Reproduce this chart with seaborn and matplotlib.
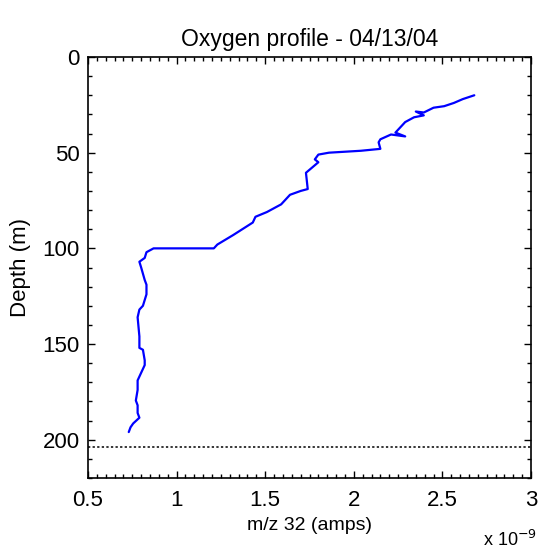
import matplotlib
matplotlib.use("Agg")
import matplotlib.pyplot as plt
from matplotlib.ticker import MultipleLocator
import seaborn as sns
import pandas as pd

# oxygen signal (x 1e-9 amps) vs depth (m)
signal = [2.68, 2.615, 2.565, 2.51, 2.45, 2.395, 2.35, 2.395, 2.34, 2.29,
          2.25, 2.235, 2.29, 2.21, 2.15, 2.14, 2.15, 2.04, 1.86, 1.80,
          1.78, 1.80, 1.73, 1.74, 1.70, 1.64, 1.59, 1.51, 1.445, 1.43,
          1.32, 1.23, 1.21, 0.87, 0.83, 0.82, 0.79, 0.80, 0.82, 0.83,
          0.83, 0.81, 0.79, 0.78, 0.79, 0.79, 0.81, 0.82, 0.82, 0.80,
          0.78, 0.78, 0.77, 0.78, 0.78, 0.79, 0.755, 0.74, 0.73]
depth = [20, 22, 24, 25.7, 26.5, 29, 28.5, 30.5, 31.5, 34,
         38, 39.5, 41.5, 40.5, 43, 44.6, 48, 49, 50, 51,
         53.5, 55, 60.5, 69, 70, 72, 77, 81, 83.5, 86.5,
         93, 98, 100, 100, 102, 105, 107, 110, 116.5, 119,
         124, 130, 132, 136, 146, 152, 153, 158.5, 161, 165,
         169, 174, 179.5, 182, 186, 188.5, 191.5, 193.5, 196]
bottom_depth = 204
xticks = [0.5, 1, 1.5, 2, 2.5, 3]
xtick_labels = ["0.5", "1", "1.5", "2", "2.5", "3"]

sns.set_style("white")
plt.rcParams["font.family"] = ["Liberation Sans", "DejaVu Sans"]
plt.rcParams["text.color"] = "black"
plt.rcParams["axes.labelcolor"] = "black"
plt.rcParams["xtick.color"] = "black"
plt.rcParams["ytick.color"] = "black"

df = pd.DataFrame({"signal": signal, "depth": depth})

fig = plt.figure(figsize=(5.38, 5.52), dpi=100)
ax = fig.add_axes([88 / 538, 1 - 478 / 552, 443 / 538, 421 / 552])

# plot in sampling order (profile goes down the water column)
sns.lineplot(data=df, x="signal", y="depth", sort=False, estimator=None,
             color="#0000ff", linewidth=1.6, ax=ax)
ax.axhline(bottom_depth, color="black", linestyle=(0, (1.5, 1.5)), linewidth=1.1)

ax.set_xlim(0.5, 3)
ax.set_ylim(220, 0)
ax.set_xticks(xticks)
ax.set_xticklabels(xtick_labels)
ax.xaxis.set_minor_locator(MultipleLocator(0.05))
ax.yaxis.set_major_locator(MultipleLocator(50))
ax.yaxis.set_minor_locator(MultipleLocator(10))
ax.tick_params(which="both", direction="in", top=True, right=True,
               bottom=True, left=True, labelsize=16, color="black")
ax.tick_params(which="major", length=5, width=1)
ax.tick_params(which="minor", length=3, width=1)
ax.tick_params(axis="x", pad=9)
ax.tick_params(axis="y", pad=6)
for s in ax.spines.values():
    s.set_color("black")
    s.set_linewidth(1.2)

ax.set_title("Oxygen profile - 04/13/04", fontsize=16.5, pad=8)
ax.set_xlabel("m/z 32 (amps)", fontsize=14, labelpad=4)
ax.set_ylabel("Depth (m)", fontsize=16, labelpad=8)
fig.text(483 / 538, 1 - 550 / 552, r"x 10$^{-9}$", fontsize=13, va="bottom")

fig.savefig("out.png", dpi=100)
